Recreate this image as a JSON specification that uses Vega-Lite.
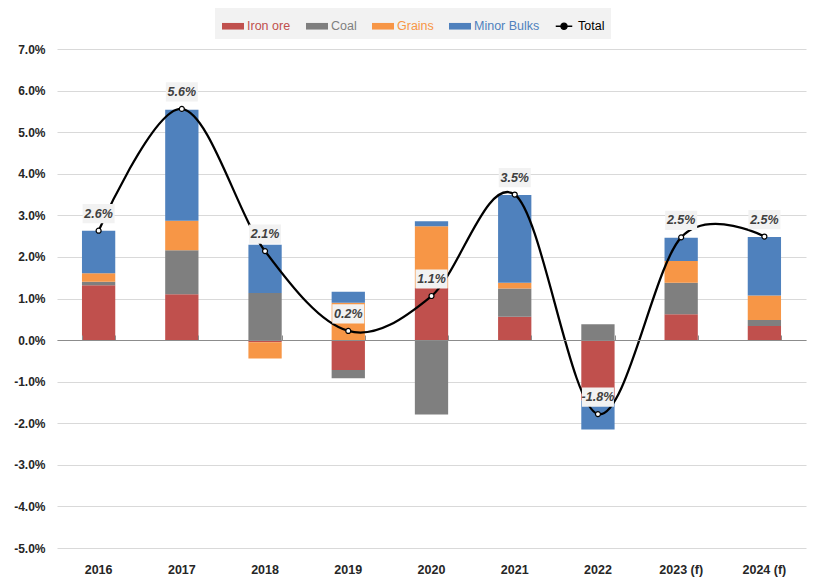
{
  "$schema": "https://vega.github.io/schema/vega-lite/v6.json",
  "width": 749,
  "height": 499,
  "autosize": {"type": "none"},
  "padding": {"left": 57, "top": 49, "right": 11, "bottom": 36},
  "background": "white",
  "config": {
    "view": {"stroke": null},
    "font": "Liberation Sans Narrow, Liberation Sans, sans-serif",
    "locale": {"number": {"decimal": ".", "thousands": ",", "grouping": [3], "currency": ["$", ""], "minus": "-"}}
  },
  "datasets": {
    "parts": [
      {"year": "2016", "series": "Iron ore", "value": 0.0132},
      {"year": "2016", "series": "Coal", "value": 0.0008},
      {"year": "2016", "series": "Grains", "value": 0.0021},
      {"year": "2016", "series": "Minor Bulks", "value": 0.0102},
      {"year": "2017", "series": "Iron ore", "value": 0.0110},
      {"year": "2017", "series": "Coal", "value": 0.0106},
      {"year": "2017", "series": "Grains", "value": 0.0071},
      {"year": "2017", "series": "Minor Bulks", "value": 0.0267},
      {"year": "2018", "series": "Iron ore", "value": -0.0005},
      {"year": "2018", "series": "Coal", "value": 0.0113},
      {"year": "2018", "series": "Grains", "value": -0.0039},
      {"year": "2018", "series": "Minor Bulks", "value": 0.0116},
      {"year": "2019", "series": "Iron ore", "value": -0.0072},
      {"year": "2019", "series": "Coal", "value": -0.0020},
      {"year": "2019", "series": "Grains", "value": 0.0090},
      {"year": "2019", "series": "Minor Bulks", "value": 0.0026},
      {"year": "2020", "series": "Iron ore", "value": 0.0125},
      {"year": "2020", "series": "Coal", "value": -0.0179},
      {"year": "2020", "series": "Grains", "value": 0.0149},
      {"year": "2020", "series": "Minor Bulks", "value": 0.0012},
      {"year": "2021", "series": "Iron ore", "value": 0.0056},
      {"year": "2021", "series": "Coal", "value": 0.0068},
      {"year": "2021", "series": "Grains", "value": 0.0014},
      {"year": "2021", "series": "Minor Bulks", "value": 0.0211},
      {"year": "2022", "series": "Iron ore", "value": -0.0145},
      {"year": "2022", "series": "Coal", "value": 0.0038},
      {"year": "2022", "series": "Grains", "value": 0.0},
      {"year": "2022", "series": "Minor Bulks", "value": -0.0070},
      {"year": "2023 (f)", "series": "Iron ore", "value": 0.0062},
      {"year": "2023 (f)", "series": "Coal", "value": 0.0076},
      {"year": "2023 (f)", "series": "Grains", "value": 0.0052},
      {"year": "2023 (f)", "series": "Minor Bulks", "value": 0.0056},
      {"year": "2024 (f)", "series": "Iron ore", "value": 0.0034},
      {"year": "2024 (f)", "series": "Coal", "value": 0.0014},
      {"year": "2024 (f)", "series": "Grains", "value": 0.0059},
      {"year": "2024 (f)", "series": "Minor Bulks", "value": 0.0141}
    ],
    "totals": [
      {"year": "2016", "total": 0.0263},
      {"year": "2017", "total": 0.0556},
      {"year": "2018", "total": 0.0214},
      {"year": "2019", "total": 0.0022},
      {"year": "2020", "total": 0.0106},
      {"year": "2021", "total": 0.0350},
      {"year": "2022", "total": -0.0178},
      {"year": "2023 (f)", "total": 0.0247},
      {"year": "2024 (f)", "total": 0.0249}
    ]
  },
  "resolve": {"axis": {"x": "independent"}},
  "layer": [
    {
      "data": {"name": "parts"},
      "transform": [{"calculate": "indexof(['Iron ore', 'Coal', 'Grains', 'Minor Bulks'], datum.series)", "as": "stackOrder"}],
      "mark": {"type": "bar"},
      "encoding": {
        "x": {
          "field": "year", "type": "nominal", "sort": null, "title": null,
          "scale": {"paddingInner": 0.6, "paddingOuter": 0.3},
          "axis": {"orient": "bottom", "domain": false, "ticks": false, "grid": false, "labelAngle": 0, "labelPadding": 15, "labelFontWeight": "bold", "labelFontSize": 12.5, "labelColor": "#262626"}
        },
        "y": {
          "field": "value", "type": "quantitative", "stack": "zero", "title": null,
          "scale": {"domain": [-0.05, 0.07], "nice": false, "zero": false},
          "axis": {"format": ".1%", "values": [-0.05, -0.04, -0.03, -0.02, -0.01, 0, 0.01, 0.02, 0.03, 0.04, 0.05, 0.06, 0.07], "grid": true, "gridColor": "#d9d9d9", "gridWidth": 1, "domain": false, "ticks": false, "labelPadding": 12, "labelFontWeight": "bold", "labelFontSize": 12, "labelColor": "#262626"}
        },
        "color": {
          "field": "series", "type": "nominal",
          "sort": ["Iron ore", "Coal", "Grains", "Minor Bulks", "Total"],
          "scale": {"domain": ["Iron ore", "Coal", "Grains", "Minor Bulks", "Total"], "range": ["#c0504d", "#7f7f7f", "#f79646", "#4f81bd", "#000000"]},
          "legend": {
            "orient": "none", "legendX": 158, "legendY": -41, "direction": "horizontal", "title": null,
            "fillColor": "#f2f2f2", "padding": 6, "columnPadding": 12, "labelFontSize": 12.5, "labelOffset": 2,
            "symbolSize": 484, "symbolStrokeWidth": 0,
            "encode": {
              "symbols": {"update": {
                "shape": {"signal": "datum.value === 'Total' ? 'M-0.75,0H-0.28M0.28,0H0.75M-0.28,0A0.28,0.28,0,1,1,0.28,0A0.28,0.28,0,1,1,-0.28,0' : 'M-1,-0.3H1V0.3H-1Z'"},
                "fill": {"signal": "datum.value === 'Total' ? 'white' : scale('color', datum.value)"},
                "stroke": {"signal": "datum.value === 'Total' ? 'black' : 'transparent'"},
                "strokeWidth": {"value": 1.3}
              }},
              "labels": {"update": {"fill": {"signal": "datum.value === 'Total' ? 'black' : scale('color', datum.value)"}}}
            }
          }
        },
        "order": {"field": "stackOrder", "type": "quantitative", "sort": "ascending"}
      }
    },
    {
      "data": {"name": "totals"},
      "mark": {"type": "line", "interpolate": "cardinal", "color": "black", "strokeWidth": 2.25},
      "encoding": {
        "x": {
          "field": "year", "type": "nominal", "sort": null, "title": null,
          "axis": {"orient": "bottom", "offset": -208, "labels": false, "domain": true, "domainColor": "#8c8c8c", "domainWidth": 1, "ticks": true, "tickBand": "extent", "tickSize": -5, "tickColor": "#8c8c8c", "grid": false, "zindex": 1}
        },
        "y": {"field": "total", "type": "quantitative", "title": null, "scale": {"domain": [-0.05, 0.07], "nice": false, "zero": false}}
      }
    },
    {
      "data": {"name": "totals"},
      "mark": {"type": "point", "shape": "M-1,-0.6H1V0.6H-1Z", "size": 1024, "filled": true, "fill": "#f2f2f2", "opacity": 1, "strokeWidth": 0, "yOffset": -17},
      "encoding": {
        "x": {"field": "year", "type": "nominal", "sort": null, "axis": null},
        "y": {"field": "total", "type": "quantitative", "title": null, "scale": {"domain": [-0.05, 0.07], "nice": false, "zero": false}}
      }
    },
    {
      "data": {"name": "totals"},
      "mark": {"type": "text", "yOffset": -17, "baseline": "middle", "fontStyle": "italic", "fontWeight": "bold", "fontSize": 12.5, "color": "#404040"},
      "encoding": {
        "x": {"field": "year", "type": "nominal", "sort": null, "axis": null},
        "y": {"field": "total", "type": "quantitative", "title": null, "scale": {"domain": [-0.05, 0.07], "nice": false, "zero": false}},
        "text": {"field": "total", "type": "quantitative", "format": ".1%"}
      }
    },
    {
      "data": {"name": "totals"},
      "mark": {"type": "point", "filled": true, "fill": "white", "stroke": "black", "strokeWidth": 1.2, "size": 25, "opacity": 1},
      "encoding": {
        "x": {"field": "year", "type": "nominal", "sort": null, "axis": null},
        "y": {"field": "total", "type": "quantitative", "title": null, "scale": {"domain": [-0.05, 0.07], "nice": false, "zero": false}}
      }
    }
  ]
}
